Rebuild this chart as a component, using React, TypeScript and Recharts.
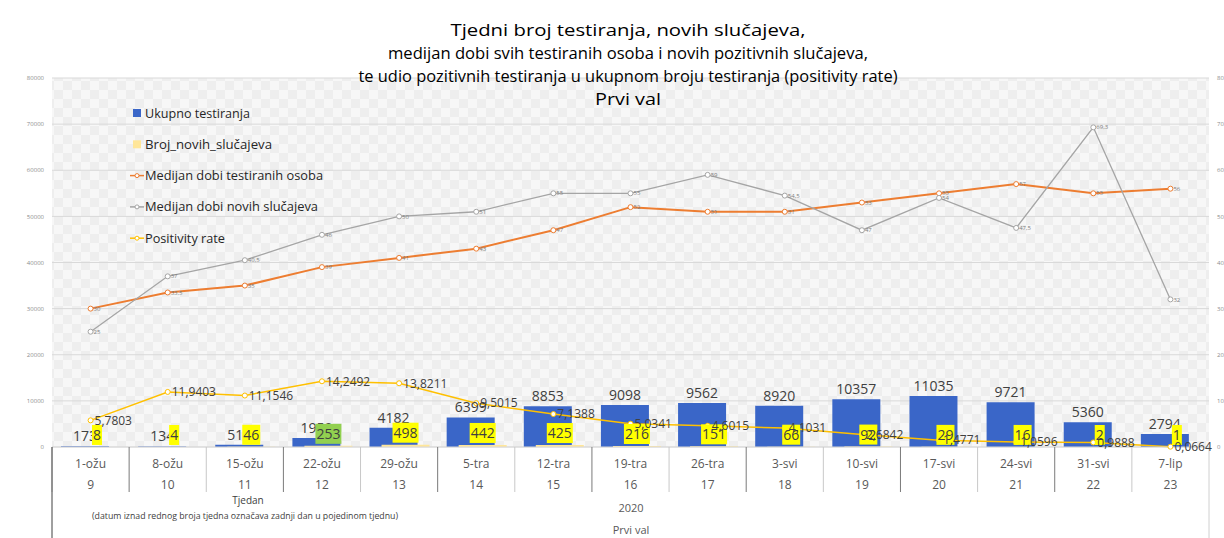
import React from 'react';
import {
  ComposedChart,
  Bar,
  Line,
  XAxis,
  YAxis,
  CartesianGrid,
  LabelList,
} from 'recharts';

const dates = ['1-ožu', '8-ožu', '15-ožu', '22-ožu', '29-ožu', '5-tra', '12-tra', '19-tra', '26-tra', '3-svi', '10-svi', '17-svi', '24-svi', '31-svi', '7-lip'];
const weeks = [9, 10, 11, 12, 13, 14, 15, 16, 17, 18, 19, 20, 21, 22, 23];
const totalTests = [173, 134, 514, 1959, 4182, 6399, 8853, 9098, 9562, 8920, 10357, 11035, 9721, 5360, 2794];
const newCases = [8, 4, 46, 253, 498, 442, 425, 216, 151, 66, 92, 29, 16, 2, 1];
const medianAgeTested = [30, 33.5, 35, 39, 41, 43, 47, 52, 51, 51, 53, 55, 57, 55, 56];
const medianAgeCases = [25, 37, 40.5, 46, 50, 51, 55, 55, 59, 54.5, 47, 54, 47.5, 69.3, 32];
const positivityRate = [5.7803, 11.9403, 11.1546, 14.2492, 13.8211, 9.5015, 7.1388, 5.0341, 4.6015, 4.1031, 2.6842, 1.4771, 1.0596, 0.9888, 0.0664];

const leftTicks = [0, 10000, 20000, 30000, 40000, 50000, 60000, 70000, 80000];
const rightTicks = [0, 10, 20, 30, 40, 50, 60, 70, 80];

const data = dates.map((d, i) => ({
  date: d,
  week: weeks[i],
  tests: totalTests[i],
  cases: newCases[i],
  ageTested: medianAgeTested[i],
  ageCases: medianAgeCases[i],
  positivity: positivityRate[i],
}));

const FONT = '"Open Sans", "Noto Sans", sans-serif';
const BLUE = '#3a66c8';
const PALE = '#ffe699';
const ORANGE = '#ed7d31';
const GRAY = '#a5a5a5';
const GOLD = '#ffc000';

const PLOT_LEFT = 52;
const PLOT_RIGHT = 1209;
const BAND = (PLOT_RIGHT - PLOT_LEFT) / dates.length;

const comma = (v: any) => String(v).replace('.', ',');

const WeekTick = (props: any) => {
  const { x, payload } = props;
  const idx = payload.index;
  return (
    <g>
      <line x1={x - BAND / 2} x2={x - BAND / 2} y1={447} y2={492} stroke={idx % 2 === 0 ? '#c8c8c8' : '#7a7a7a'} />
      {idx === dates.length - 1 && (
        <line x1={x + BAND / 2} x2={x + BAND / 2} y1={447} y2={538} stroke="#d0d0d0" />
      )}
      <text x={x} y={468} textAnchor="middle" fontSize={12} fill="#595959" fontFamily={FONT}>
        {payload.value}
      </text>
      <text x={x} y={489} textAnchor="middle" fontSize={12} fill="#595959" fontFamily={FONT}>
        {weeks[idx]}
      </text>
    </g>
  );
};

const CaseLabel = (props: any) => {
  const { x, y, width, value, index } = props;
  const cx = x + width / 2;
  const txt = String(value);
  const w = txt.length * 8 + 2;
  const bg = index === 3 ? '#92d050' : '#ffff00';
  return (
    <g>
      <rect x={cx - w / 2} y={y - 22} width={w} height={20} fill={bg} />
      <text x={cx} y={y - 7} textAnchor="middle" fontSize={14} fill="#404040" fontFamily={FONT}>
        {txt}
      </text>
    </g>
  );
};

const legendItems = [
  { name: 'Ukupno testiranja', color: BLUE, kind: 'box', len: 105 },
  { name: 'Broj_novih_slučajeva', color: PALE, kind: 'box', len: 127 },
  { name: 'Medijan dobi testiranih osoba', color: ORANGE, kind: 'line', len: 178 },
  { name: 'Medijan dobi novih slučajeva', color: GRAY, kind: 'line', len: 173 },
  { name: 'Positivity rate', color: GOLD, kind: 'line', len: 80 },
];

const titleLines = [
  { text: 'Tjedni broj testiranja, novih slučajeva,', len: 355, y: 36 },
  { text: 'medijan dobi svih testiranih osoba i novih pozitivnih slučajeva,', len: 480, y: 59 },
  { text: 'te udio pozitivnih testiranja u ukupnom broju testiranja (positivity rate)', len: 539, y: 82 },
  { text: 'Prvi val', len: 66, y: 105 },
];

export default function App() {
  return (
    <div style={{ position: 'absolute', left: 0, top: 0, width: 1224, height: 538, background: '#fff' }}>
      <svg width={0} height={0} style={{ position: 'absolute' }}>
        <defs>
          <pattern id="checker" width={18} height={18} patternUnits="userSpaceOnUse">
            <rect width={18} height={18} fill="#f7f7f7" />
            <rect width={9} height={9} fill="#eeeeee" />
            <rect x={9} y={9} width={9} height={9} fill="#eeeeee" />
          </pattern>
        </defs>
      </svg>
      <ComposedChart
        width={1224}
        height={538}
        data={data}
        margin={{ top: 78, right: 0, left: 0, bottom: 0 }}
        barGap={-36}
        style={{ fontFamily: FONT }}
      >
        <CartesianGrid yAxisId="left" vertical={false} stroke="#d9d9d9" fill="url(#checker)" />
        <XAxis
          dataKey="date"
          height={91}
          interval={0}
          tickLine={false}
          axisLine={{ stroke: '#d9d9d9' }}
          tick={<WeekTick />}
        />
        <YAxis
          yAxisId="left"
          width={52}
          domain={[0, 80000]}
          ticks={leftTicks}
          tickLine={false}
          axisLine={false}
          tick={{ fontSize: 6, fill: '#8c8c8c' }}
        />
        <YAxis
          yAxisId="right"
          orientation="right"
          width={15}
          domain={[0, 80]}
          ticks={rightTicks}
          tickLine={false}
          axisLine={false}
          tick={{ fontSize: 6, fill: '#8c8c8c' }}
        />
        <Bar yAxisId="left" dataKey="tests" fill={BLUE} barSize={48} isAnimationActive={false}>
          <LabelList dataKey="tests" position="top" offset={5} fontSize={14} fill="#404040" />
        </Bar>
        <Bar yAxisId="left" dataKey="cases" fill={PALE} barSize={48} isAnimationActive={false}>
          <LabelList dataKey="cases" content={<CaseLabel />} />
        </Bar>
        <Line
          yAxisId="right"
          dataKey="ageTested"
          stroke={ORANGE}
          strokeWidth={2}
          dot={{ r: 2.5, fill: '#fff', stroke: ORANGE, strokeWidth: 1 }}
          isAnimationActive={false}
        >
          <LabelList dataKey="ageTested" position="right" offset={3} fontSize={6} fill="#7f7f7f" formatter={comma} />
        </Line>
        <Line
          yAxisId="right"
          dataKey="ageCases"
          stroke={GRAY}
          strokeWidth={1.3}
          dot={{ r: 2.5, fill: '#fff', stroke: GRAY, strokeWidth: 1 }}
          isAnimationActive={false}
        >
          <LabelList dataKey="ageCases" position="right" offset={3} fontSize={6} fill="#7f7f7f" formatter={comma} />
        </Line>
        <Line
          yAxisId="right"
          dataKey="positivity"
          stroke={GOLD}
          strokeWidth={1.5}
          dot={{ r: 2.5, fill: '#fff', stroke: GOLD, strokeWidth: 1 }}
          isAnimationActive={false}
        >
          <LabelList
            dataKey="positivity"
            position="right"
            offset={4}
            fontSize={12}
            fill="#404040"
            formatter={(v: any) => Number(v).toFixed(4).replace('.', ',')}
          />
        </Line>
      </ComposedChart>
      <svg
        width={1224}
        height={538}
        style={{ position: 'absolute', left: 0, top: 0, pointerEvents: 'none', fontFamily: FONT }}
      >
        {titleLines.map((t) => (
          <text key={t.y} x={628} y={t.y} textAnchor="middle" fontSize={17} fill="#000" textLength={t.len} lengthAdjust="spacingAndGlyphs">
            {t.text}
          </text>
        ))}
        {legendItems.map((it, i) => {
          const cy = 113 + i * 31.3;
          return (
            <g key={it.name}>
              {it.kind === 'box' ? (
                <rect x={133} y={cy - 4} width={8} height={8} fill={it.color} />
              ) : (
                <g>
                  <line x1={130} x2={144} y1={cy} y2={cy} stroke={it.color} strokeWidth={1.5} />
                  <circle cx={137} cy={cy} r={2} fill="#fff" stroke={it.color} />
                </g>
              )}
              <text x={145} y={cy + 4.5} fontSize={13} fill="#262626" textLength={it.len} lengthAdjust="spacingAndGlyphs">
                {it.name}
              </text>
            </g>
          );
        })}
        <line x1={PLOT_LEFT} x2={PLOT_LEFT} y1={447} y2={538} stroke="#404040" />
        <text x={248} y={504} textAnchor="middle" fontSize={10} fill="#404040">Tjedan</text>
        <text x={245} y={519} textAnchor="middle" fontSize={9.5} fill="#404040" textLength={306} lengthAdjust="spacingAndGlyphs">
          (datum iznad rednog broja tjedna označava zadnji dan u pojedinom tjednu)
        </text>
        <text x={631} y={512} textAnchor="middle" fontSize={11} fill="#595959">2020</text>
        <text x={631} y={534} textAnchor="middle" fontSize={11} fill="#595959">Prvi val</text>
      </svg>
    </div>
  );
}
